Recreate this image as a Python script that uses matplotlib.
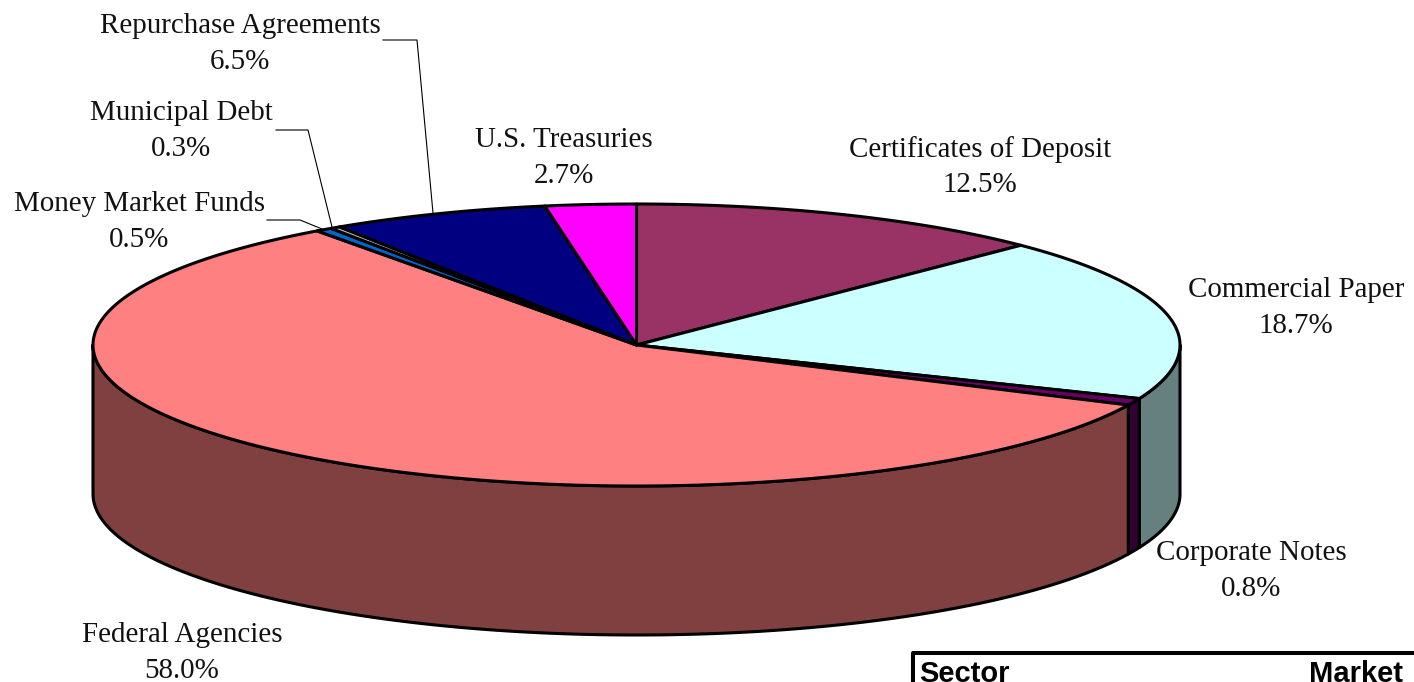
import numpy as np
import matplotlib
matplotlib.use('Agg')
import matplotlib.pyplot as plt

sectors = ['Certificates of Deposit', 'Commercial Paper', 'Corporate Notes', 'Federal Agencies',
           'Money Market Funds', 'Municipal Debt', 'Repurchase Agreements', 'U.S. Treasuries']
shares = [12.5, 18.7, 0.8, 58.0, 0.5, 0.3, 6.5, 2.7]
tops = ['#993366', '#CCFFFF', '#660066', '#FF8080', '#0066CC', '#C0C0C0', '#000080', '#FF00FF']
sides = ['#4D1A33', '#668080', '#330033', '#804040', '#003366', '#606060', '#000040', '#800080']
table_head = ['Sector', 'Market']

# label centres, pixels
label_x = [980, 1296, 1251, 182, 139, 181, 240, 564]
label_y = [167, 308, 571, 653, 222, 131, 44, 158]

# leader lines, pixels
leaders = [([383, 417, 433], [40, 40, 213]),
           ([276, 308, 332], [130, 130, 227]),
           ([267, 300, 322], [220, 220, 229])]

cx, cy, rx, ry, depth = 636.5, 345, 543.5, 141, 149
lw = 2.2

fig = plt.figure(figsize=(14.14, 6.82), dpi=100)
ax = fig.add_axes([0, 0, 1, 1])
ax.set_xlim(0, 1414)
ax.set_ylim(682, 0)
ax.axis('off')

edges = 2*np.pi*np.concatenate([[0], np.cumsum(shares)])/100

def rim(a, b, n=300):
    t = np.linspace(a, b, n)
    return cx + rx*np.sin(t), cy - ry*np.cos(t)

# side wall first (only the part facing front)
for i in range(len(shares)):
    a = max(edges[i], np.pi/2)
    b = min(edges[i+1], 3*np.pi/2)
    if b <= a:
        continue
    x, y = rim(a, b)
    xs = np.concatenate([x, x[::-1]])
    ys = np.concatenate([y, y[::-1] + depth])
    ax.fill(xs, ys, fc=sides[i], ec='black', lw=lw, joinstyle='round', zorder=2)

for i in range(len(shares)):
    x, y = rim(edges[i], edges[i+1])
    xs = np.concatenate([[cx], x])
    ys = np.concatenate([[cy], y])
    ax.fill(xs, ys, fc=tops[i], ec='black', lw=lw, joinstyle='round', zorder=3)

for lx, ly in leaders:
    ax.plot(lx, ly, color='black', lw=0.8, zorder=4)

for name, val, x, y in zip(sectors, shares, label_x, label_y):
    ax.text(x, y, '{}\n{:.1f}%'.format(name, val), ha='center', va='center',
            family='Liberation Serif', fontsize=20.9, color='#111111', linespacing=1.47)

# table header cut off by the bottom of the picture
ax.plot([913, 913, 1414], [682, 653, 653], color='black', lw=2.9, zorder=4)
ax.text(919, 682, table_head[0], family='Liberation Sans', weight='bold', fontsize=21, va='baseline', ha='left')
ax.text(1403, 682, table_head[1], family='Liberation Sans', weight='bold', fontsize=21, va='baseline', ha='right')

fig.savefig('out.png', dpi=100)
